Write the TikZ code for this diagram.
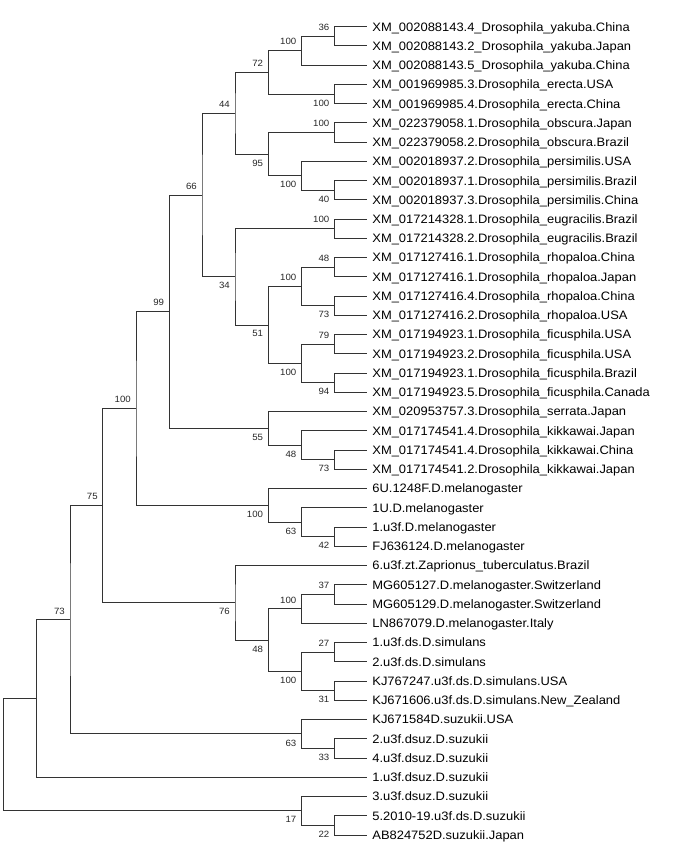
\documentclass[tikz,border=0pt]{standalone}
\usepackage{fontspec}
\setmainfont{Liberation Sans}[FakeStretch=1.06]
\usetikzlibrary{positioning}
\tikzstyle{leaf}=[anchor=west, inner sep=0pt, text height=8.7pt, text depth=0pt, font=\fontsize{12.2}{14}\selectfont]
\tikzstyle{boot}=[inner sep=0pt, text=black!85, font=\fontsize{9.1}{11}\selectfont]
\tikzstyle{branch}=[draw=black!80, line width=1pt]

\begin{document}
\begin{tikzpicture}[x=1pt, y=-1pt, node distance=5.5pt]
    \useasboundingbox (0,0) rectangle (673,853);
    % tips and sequence names
    \coordinate (t1) at (366.7,26.70); \node[leaf, right=of t1] (l1) {XM\_002088143.4\_Drosophila\_yakuba.China};
    \coordinate (t2) at (366.7,45.95); \node[leaf, right=of t2] (l2) {XM\_002088143.2\_Drosophila\_yakuba.Japan};
    \coordinate (t3) at (366.7,65.19); \node[leaf, right=of t3] (l3) {XM\_002088143.5\_Drosophila\_yakuba.China};
    \coordinate (t4) at (366.7,84.44); \node[leaf, right=of t4] (l4) {XM\_001969985.3.Drosophila\_erecta.USA};
    \coordinate (t5) at (366.7,103.68); \node[leaf, right=of t5] (l5) {XM\_001969985.4.Drosophila\_erecta.China};
    \coordinate (t6) at (366.7,122.93); \node[leaf, right=of t6] (l6) {XM\_022379058.1.Drosophila\_obscura.Japan};
    \coordinate (t7) at (366.7,142.17); \node[leaf, right=of t7] (l7) {XM\_022379058.2.Drosophila\_obscura.Brazil};
    \coordinate (t8) at (366.7,161.42); \node[leaf, right=of t8] (l8) {XM\_002018937.2.Drosophila\_persimilis.USA};
    \coordinate (t9) at (366.7,180.66); \node[leaf, right=of t9] (l9) {XM\_002018937.1.Drosophila\_persimilis.Brazil};
    \coordinate (t10) at (366.7,199.91); \node[leaf, right=of t10] (l10) {XM\_002018937.3.Drosophila\_persimilis.China};
    \coordinate (t11) at (366.7,219.15); \node[leaf, right=of t11] (l11) {XM\_017214328.1.Drosophila\_eugracilis.Brazil};
    \coordinate (t12) at (366.7,238.40); \node[leaf, right=of t12] (l12) {XM\_017214328.2.Drosophila\_eugracilis.Brazil};
    \coordinate (t13) at (366.7,257.64); \node[leaf, right=of t13] (l13) {XM\_017127416.1.Drosophila\_rhopaloa.China};
    \coordinate (t14) at (366.7,276.89); \node[leaf, right=of t14] (l14) {XM\_017127416.1.Drosophila\_rhopaloa.Japan};
    \coordinate (t15) at (366.7,296.13); \node[leaf, right=of t15] (l15) {XM\_017127416.4.Drosophila\_rhopaloa.China};
    \coordinate (t16) at (366.7,315.38); \node[leaf, right=of t16] (l16) {XM\_017127416.2.Drosophila\_rhopaloa.USA};
    \coordinate (t17) at (366.7,334.62); \node[leaf, right=of t17] (l17) {XM\_017194923.1.Drosophila\_ficusphila.USA};
    \coordinate (t18) at (366.7,353.87); \node[leaf, right=of t18] (l18) {XM\_017194923.2.Drosophila\_ficusphila.USA};
    \coordinate (t19) at (366.7,373.11); \node[leaf, right=of t19] (l19) {XM\_017194923.1.Drosophila\_ficusphila.Brazil};
    \coordinate (t20) at (366.7,392.36); \node[leaf, right=of t20] (l20) {XM\_017194923.5.Drosophila\_ficusphila.Canada};
    \coordinate (t21) at (366.7,411.60); \node[leaf, right=of t21] (l21) {XM\_020953757.3.Drosophila\_serrata.Japan};
    \coordinate (t22) at (366.7,430.85); \node[leaf, right=of t22] (l22) {XM\_017174541.4.Drosophila\_kikkawai.Japan};
    \coordinate (t23) at (366.7,450.09); \node[leaf, right=of t23] (l23) {XM\_017174541.4.Drosophila\_kikkawai.China};
    \coordinate (t24) at (366.7,469.34); \node[leaf, right=of t24] (l24) {XM\_017174541.2.Drosophila\_kikkawai.Japan};
    \coordinate (t25) at (366.7,488.58); \node[leaf, right=of t25] (l25) {6U.1248F.D.melanogaster};
    \coordinate (t26) at (366.7,507.83); \node[leaf, right=of t26] (l26) {1U.D.melanogaster};
    \coordinate (t27) at (366.7,527.07); \node[leaf, right=of t27] (l27) {1.u3f.D.melanogaster};
    \coordinate (t28) at (366.7,546.32); \node[leaf, right=of t28] (l28) {FJ636124.D.melanogaster};
    \coordinate (t29) at (366.7,565.56); \node[leaf, right=of t29] (l29) {6.u3f.zt.Zaprionus\_tuberculatus.Brazil};
    \coordinate (t30) at (366.7,584.81); \node[leaf, right=of t30] (l30) {MG605127.D.melanogaster.Switzerland};
    \coordinate (t31) at (366.7,604.05); \node[leaf, right=of t31] (l31) {MG605129.D.melanogaster.Switzerland};
    \coordinate (t32) at (366.7,623.30); \node[leaf, right=of t32] (l32) {LN867079.D.melanogaster.Italy};
    \coordinate (t33) at (366.7,642.54); \node[leaf, right=of t33] (l33) {1.u3f.ds.D.simulans};
    \coordinate (t34) at (366.7,661.79); \node[leaf, right=of t34] (l34) {2.u3f.ds.D.simulans};
    \coordinate (t35) at (366.7,681.03); \node[leaf, right=of t35] (l35) {KJ767247.u3f.ds.D.simulans.USA};
    \coordinate (t36) at (366.7,700.28); \node[leaf, right=of t36] (l36) {KJ671606.u3f.ds.D.simulans.New\_Zealand};
    \coordinate (t37) at (366.7,719.52); \node[leaf, right=of t37] (l37) {KJ671584D.suzukii.USA};
    \coordinate (t38) at (366.7,738.77); \node[leaf, right=of t38] (l38) {2.u3f.dsuz.D.suzukii};
    \coordinate (t39) at (366.7,758.01); \node[leaf, right=of t39] (l39) {4.u3f.dsuz.D.suzukii};
    \coordinate (t40) at (366.7,777.26); \node[leaf, right=of t40] (l40) {1.u3f.dsuz.D.suzukii};
    \coordinate (t41) at (366.7,796.50); \node[leaf, right=of t41] (l41) {3.u3f.dsuz.D.suzukii};
    \coordinate (t42) at (366.7,815.75); \node[leaf, right=of t42] (l42) {5.2010-19.u3f.ds.D.suzukii};
    \coordinate (t43) at (366.7,834.99); \node[leaf, right=of t43] (l43) {AB824752D.suzukii.Japan};

    % internal nodes and branches
    \coordinate (a1) at (334.5,36.33); \draw[branch] (t1) -| (a1) |- (t2);
    \coordinate (b1) at (301.5,50.76); \draw[branch] (a1) -| (b1) |- (t3);
    \coordinate (a2) at (334.5,94.06); \draw[branch] (t4) -| (a2) |- (t5);
    \coordinate (c1) at (268.2,72.41); \draw[branch] (b1) -| (c1) |- (a2);
    \coordinate (a3) at (334.5,132.55); \draw[branch] (t6) -| (a3) |- (t7);
    \coordinate (a4) at (334.5,190.28); \draw[branch] (t9) -| (a4) |- (t10);
    \coordinate (b2) at (301.5,175.85); \draw[branch] (t8) -| (b2) |- (a4);
    \coordinate (c2) at (268.2,154.20); \draw[branch] (a3) -| (c2) |- (b2);
    \coordinate (d1) at (235,113.31); \draw[branch] (c1) -| (d1) |- (c2);
    \coordinate (a5) at (334.5,228.78); \draw[branch] (t11) -| (a5) |- (t12);
    \coordinate (a6) at (334.5,267.27); \draw[branch] (t13) -| (a6) |- (t14);
    \coordinate (a7) at (334.5,305.76); \draw[branch] (t15) -| (a7) |- (t16);
    \coordinate (b3) at (301.5,286.51); \draw[branch] (a6) -| (b3) |- (a7);
    \coordinate (a8) at (334.5,344.25); \draw[branch] (t17) -| (a8) |- (t18);
    \coordinate (a9) at (334.5,382.74); \draw[branch] (t19) -| (a9) |- (t20);
    \coordinate (b4) at (301.5,363.49); \draw[branch] (a8) -| (b4) |- (a9);
    \coordinate (c3) at (268.2,325.00); \draw[branch] (b3) -| (c3) |- (b4);
    \coordinate (d2) at (235,276.89); \draw[branch] (a5) -| (d2) |- (c3);
    \coordinate (e1) at (202,195.10); \draw[branch] (d1) -| (e1) |- (d2);
    \coordinate (a10) at (334.5,459.72); \draw[branch] (t23) -| (a10) |- (t24);
    \coordinate (b5) at (301.5,445.28); \draw[branch] (t22) -| (b5) |- (a10);
    \coordinate (c4) at (268.2,428.44); \draw[branch] (t21) -| (c4) |- (b5);
    \coordinate (f1) at (169.2,311.77); \draw[branch] (e1) -| (f1) |- (c4);
    \coordinate (a11) at (334.5,536.70); \draw[branch] (t27) -| (a11) |- (t28);
    \coordinate (b6) at (301.5,522.26); \draw[branch] (t26) -| (b6) |- (a11);
    \coordinate (c5) at (268.2,505.42); \draw[branch] (t25) -| (c5) |- (b6);
    \coordinate (g1) at (136,408.60); \draw[branch] (f1) -| (g1) |- (c5);
    \coordinate (a12) at (334.5,594.43); \draw[branch] (t30) -| (a12) |- (t31);
    \coordinate (b7) at (301.5,608.86); \draw[branch] (a12) -| (b7) |- (t32);
    \coordinate (a13) at (334.5,652.17); \draw[branch] (t33) -| (a13) |- (t34);
    \coordinate (a14) at (334.5,690.66); \draw[branch] (t35) -| (a14) |- (t36);
    \coordinate (b8) at (301.5,671.41); \draw[branch] (a13) -| (b8) |- (a14);
    \coordinate (c6) at (268.2,640.14); \draw[branch] (b7) -| (c6) |- (b8);
    \coordinate (d3) at (235,602.85); \draw[branch] (t29) -| (d3) |- (c6);
    \coordinate (h1) at (102.9,505.72); \draw[branch] (g1) -| (h1) |- (d3);
    \coordinate (a15) at (334.5,748.39); \draw[branch] (t38) -| (a15) |- (t39);
    \coordinate (b9) at (301.5,733.96); \draw[branch] (t37) -| (b9) |- (a15);
    \coordinate (i1) at (70,619.84); \draw[branch] (h1) -| (i1) |- (b9);
    \coordinate (j1) at (36.7,698.55); \draw[branch] (i1) -| (j1) |- (t40);
    \coordinate (a16) at (334.5,825.37); \draw[branch] (t42) -| (a16) |- (t43);
    \coordinate (b10) at (301.5,810.94); \draw[branch] (t41) -| (b10) |- (a16);
    \coordinate (r0) at (3.5,754.74); \draw[branch] (j1) -| (r0) |- (b10);

    % bootstrap values
    \node[boot, above left=5.5pt and 5pt of a1] (ba1) {36};
    \node[boot, above left=5.5pt and 5pt of b1] (bb1) {100};
    \node[boot, below left=5.5pt and 5pt of a2] (ba2) {100};
    \node[boot, above left=5.5pt and 5pt of c1] (bc1) {72};
    \node[boot, above left=5.5pt and 5pt of a3] (ba3) {100};
    \node[boot, below left=5.5pt and 5pt of a4] (ba4) {40};
    \node[boot, below left=5.5pt and 5pt of b2] (bb2) {100};
    \node[boot, below left=5.5pt and 5pt of c2] (bc2) {95};
    \node[boot, above left=5.5pt and 5pt of d1] (bd1) {44};
    \node[boot, above left=5.5pt and 5pt of a5] (ba5) {100};
    \node[boot, above left=5.5pt and 5pt of a6] (ba6) {48};
    \node[boot, below left=5.5pt and 5pt of a7] (ba7) {73};
    \node[boot, above left=5.5pt and 5pt of b3] (bb3) {100};
    \node[boot, above left=5.5pt and 5pt of a8] (ba8) {79};
    \node[boot, below left=5.5pt and 5pt of a9] (ba9) {94};
    \node[boot, below left=5.5pt and 5pt of b4] (bb4) {100};
    \node[boot, below left=5.5pt and 5pt of c3] (bc3) {51};
    \node[boot, below left=5.5pt and 5pt of d2] (bd2) {34};
    \node[boot, above left=5.5pt and 5pt of e1] (be1) {66};
    \node[boot, below left=5.5pt and 5pt of a10] (ba10) {73};
    \node[boot, below left=5.5pt and 5pt of b5] (bb5) {48};
    \node[boot, below left=5.5pt and 5pt of c4] (bc4) {55};
    \node[boot, above left=5.5pt and 5pt of f1] (bf1) {99};
    \node[boot, below left=5.5pt and 5pt of a11] (ba11) {42};
    \node[boot, below left=5.5pt and 5pt of b6] (bb6) {63};
    \node[boot, below left=5.5pt and 5pt of c5] (bc5) {100};
    \node[boot, above left=5.5pt and 5pt of g1] (bg1) {100};
    \node[boot, above left=5.5pt and 5pt of a12] (ba12) {37};
    \node[boot, above left=5.5pt and 5pt of b7] (bb7) {100};
    \node[boot, above left=5.5pt and 5pt of a13] (ba13) {27};
    \node[boot, below left=5.5pt and 5pt of a14] (ba14) {31};
    \node[boot, below left=5.5pt and 5pt of b8] (bb8) {100};
    \node[boot, below left=5.5pt and 5pt of c6] (bc6) {48};
    \node[boot, below left=5.5pt and 5pt of d3] (bd3) {76};
    \node[boot, above left=5.5pt and 5pt of h1] (bh1) {75};
    \node[boot, below left=5.5pt and 5pt of a15] (ba15) {33};
    \node[boot, below left=5.5pt and 5pt of b9] (bb9) {63};
    \node[boot, above left=5.5pt and 5pt of i1] (bi1) {73};
    \node[boot, below left=5.5pt and 5pt of a16] (ba16) {22};
    \node[boot, below left=5.5pt and 5pt of b10] (bb10) {17};
\end{tikzpicture}
\end{document}
